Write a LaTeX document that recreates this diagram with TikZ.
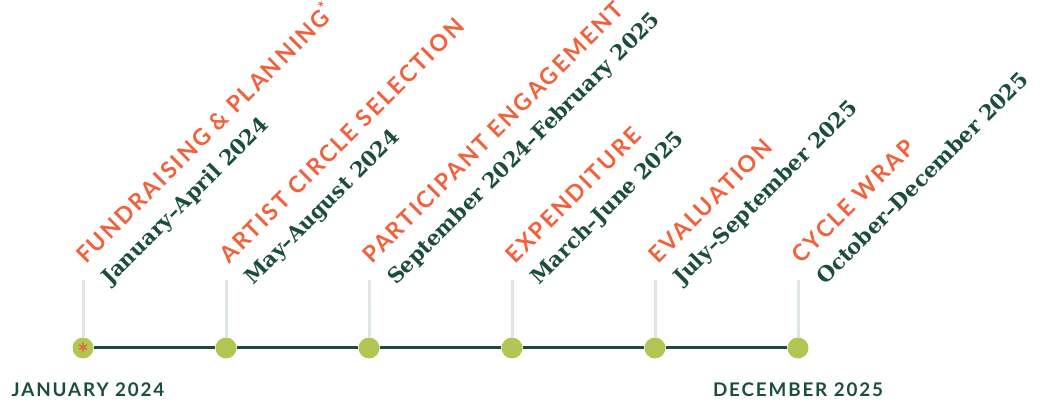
\documentclass[tikz,border=0pt]{standalone}
\usepackage{fontspec}
\usepackage{tikz}
\usetikzlibrary{positioning, calc}

\newfontfamily\phasefont[LetterSpace=10]{Lato}
\newfontfamily\datefont{DejaVuSerif}[Extension=.ttf, BoldFont=DejaVuSerif-Bold]
\newfontfamily\endfont[LetterSpace=10]{Lato}

\definecolor{tlorange}{HTML}{F2603C}
\definecolor{tlgreen}{HTML}{1B4D3E}
\definecolor{dotgreen}{HTML}{B1C653}
\definecolor{stemgrey}{HTML}{DDE6E3}

\begin{document}
\begin{tikzpicture}[x=1pt, y=1pt,
    milestone/.style={circle, fill=dotgreen, minimum size=21pt, inner sep=0pt},
    track/.style={draw=tlgreen, line width=3pt},
    stem/.style={draw=stemgrey, line width=3pt},
    phase/.style={anchor=base west, rotate=45, inner sep=0pt, text=tlorange,
        font=\phasefont\bfseries\fontsize{23}{23}\selectfont},
    datelabel/.style={anchor=base west, rotate=45, inner sep=0pt, text=tlgreen,
        font=\datefont\bfseries\fontsize{21}{21}\selectfont},
    endlabel/.style={anchor=base, inner sep=0pt, text=tlgreen,
        font=\endfont\bfseries\fontsize{18.8}{18.8}\selectfont}]

        \useasboundingbox (0,0) rectangle (1051,404);

        %MILESTONES
        \node[milestone, text=tlorange, font=\phasefont\bfseries\fontsize{27}{27}\selectfont] (m1) at (83,56) {\raisebox{-15pt}[0pt][0pt]{*}};
        \node[milestone] (m2) at (226,56) {};
        \node[milestone] (m3) at (369,56) {};
        \node[milestone] (m4) at (512,56) {};
        \node[milestone] (m5) at (655,56) {};
        \node[milestone] (m6) at (798,56) {};

        % TIMELINE
        \draw[track] (m1) -- (m2);
        \draw[track] (m2) -- (m3);
        \draw[track] (m3) -- (m4);
        \draw[track] (m4) -- (m5);
        \draw[track] (m5) -- (m6);

        % STEMS (TOP ENDS ONLY)
        \coordinate (s1) at (83,124);
        \coordinate (s2) at (226,124);
        \coordinate (s3) at (369,124);
        \coordinate (s4) at (512,124);
        \coordinate (s5) at (655,124);
        \coordinate (s6) at (798,124);
        \draw[stem] (s1) -- (m1);
        \draw[stem] (s2) -- (m2);
        \draw[stem] (s3) -- (m3);
        \draw[stem] (s4) -- (m4);
        \draw[stem] (s5) -- (m5);
        \draw[stem] (s6) -- (m6);

        % PHASES
        \node[phase] (p1) at ($(s1)+(3,15)$) {FUNDRAISING \& PLANNING\textsuperscript{*}};
        \node[phase] (p2) at ($(s2)+(3,15)$) {ARTIST CIRCLE SELECTION};
        \node[phase] (p3) at ($(s3)+(3,15)$) {PARTICIPANT ENGAGEMENT};
        \node[phase] (p4) at ($(s4)+(3,15)$) {EXPENDITURE};
        \node[phase] (p5) at ($(s5)+(3,15)$) {EVALUATION};
        \node[phase] (p6) at ($(s6)+(3,15)$) {CYCLE WRAP};

        % DATES
        \node[datelabel] (d1) at ($(s1)+(27,-6)$) {January–April 2024};
        \node[datelabel] (d2) at ($(s2)+(27,-6)$) {May–August 2024};
        \node[datelabel] (d3) at ($(s3)+(27,-6)$) {September 2024–February 2025};
        \node[datelabel] (d4) at ($(s4)+(27,-6)$) {March–June 2025};
        \node[datelabel] (d5) at ($(s5)+(27,-6)$) {July–September 2025};
        \node[datelabel] (d6) at ($(s6)+(27,-6)$) {October–December 2025};

        % START AND END
        \node[endlabel] (start) at ($(m1)+(5,-48)$) {JANUARY 2024};
        \node[endlabel] (end) at ($(m6)+(0,-48)$) {DECEMBER 2025};

    \end{tikzpicture}
\end{document}
